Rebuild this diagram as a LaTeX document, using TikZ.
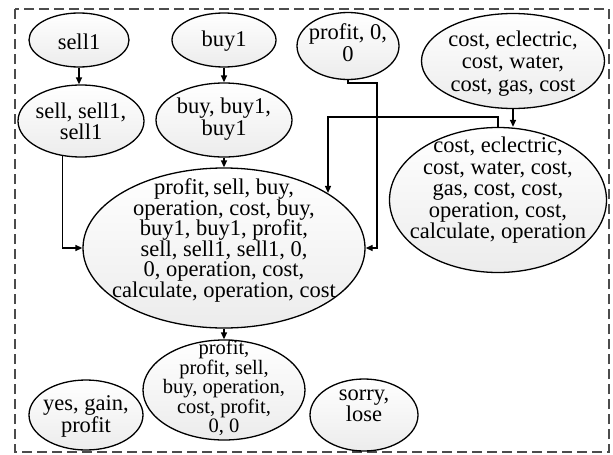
\documentclass[tikz,border=0pt]{standalone}
\usepackage{fontspec}
\setmainfont{Liberation Serif}
\usetikzlibrary{shapes,arrows.meta,positioning}
% centred lines of a state, optionally raised
\newcommand{\words}[2][0pt]{\smash{\makebox[0pt]{\raisebox{#1}{\lower.25em\hbox{$\vcenter{\lineskiplimit=-30pt\let\\\cr\halign{\hfil##\hfil\cr#2\crcr}}$}}}}}

\begin{document}
\begin{tikzpicture}[x=1pt,y=-1pt,
        bubble/.style={ellipse,draw,line width=1.3pt,top color=white,bottom color=gray!15,
            inner sep=0pt,font=\fontsize{22.5}{21.5}\selectfont},
        link/.style={line width=1.3pt,-{Triangle[length=7pt,width=6pt]}}]
        % Draw paper background
        \useasboundingbox (0,0) rectangle (613,455);
        \draw[gray!60!black,line width=1.7pt,dash pattern=on 10pt off 5pt] (15,9) rectangle (609,452);
        % Draw top row
        \node[bubble,minimum width=100,minimum height=54] (sell1) at (79,40) {\words[-1pt]{sell1}};
        \node[bubble,minimum width=104,minimum height=54] (buy1) at (224,40) {\words[-1pt]{buy1}};
        \node[bubble,minimum width=102,minimum height=67] (profit0) at (348,46) {\words[4pt]{profit, 0,\\0}};
        \node[bubble,minimum width=183,minimum height=95,font=\fontsize{22.5}{22.5}\selectfont] (costtop) at (513,61) {\words[-2pt]{cost, eclectric,\\cost, water,\\cost, gas, cost}};
        % Draw second row
        \node[bubble,minimum width=126,minimum height=72] (sellset) at (81,121) {\words{sell, sell1,\\sell1}};
        \node[bubble,minimum width=136,minimum height=74] (buyset) at (224,120) {\words[1.5pt]{buy, buy1,\\buy1}};
        \node[bubble,minimum width=217,minimum height=145] (costbig) at (498,200) {\words[10pt]{cost, eclectric,\\cost, water, cost,\\gas, cost, cost,\\operation, cost,\\calculate, operation}};
        % Draw main state
        \node[bubble,minimum width=282,minimum height=160,font=\fontsize{22.5}{20.5}\selectfont] (main) at (224,248) {\words[8pt]{profit,\,sell, buy,\\operation, cost, buy,\\buy1, buy1, profit,\\sell, sell1, sell1, 0,\\0, operation, cost,\\calculate, operation, cost}};
        % Draw bottom row
        \node[bubble,minimum width=162,minimum height=100,font=\fontsize{20.5}{19.5}\selectfont] (result) at (224,390) {\words[2pt]{profit,\\profit, sell,\\buy, operation,\\cost, profit,\\0, 0}};
        \node[bubble,minimum width=114,minimum height=70] (gain) at (86,415) {\words[-1pt]{yes, gain,\\profit}};
        \node[bubble,minimum width=108,minimum height=72] (lose) at (364,415) {\words[9.5pt]{sorry,\\lose}};
        % Draw connectors
        \coordinate (bendA) at (377,83);
        \coordinate (bendB) at (328,117);
        \draw[link] (sell1) -- (sell1 |- sellset.north);
        \draw[link] (buy1) -- (buyset);
        \draw[link] (buyset) -- (main);
        \draw[link] (sellset.242) |- (main.west);
        \draw[link] (profit0.south) |- (bendA) |- (main.east);
        \draw[link] (costtop.south) -- (costtop.south |- costbig.north);
        \draw[link] (costbig.north) |- (bendB) -- (bendB |- main.28);
        \draw[link] (main) -- (result);
    \end{tikzpicture}
\end{document}
